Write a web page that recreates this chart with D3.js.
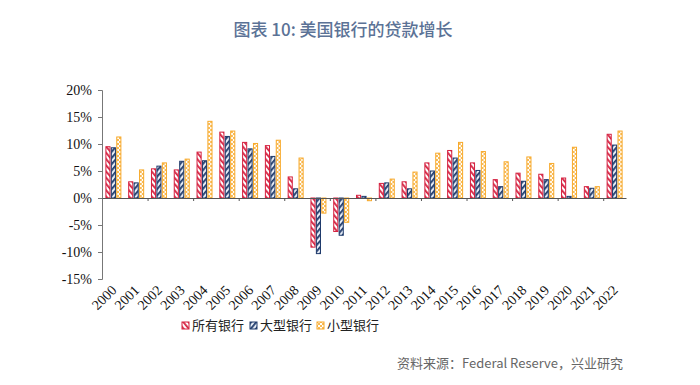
<!DOCTYPE html>
<html>
<head>
<meta charset="utf-8">
<script src="https://cdn.jsdelivr.net/npm/d3@7"></script>
<style>
  body { margin: 0; background: #fff; }
  svg { display: block; }
</style>
</head>
<body>
<svg id="chart"></svg>
<script>
const width = 700, height = 385;

// data (loan growth, %)
const years = ["2000","2001","2002","2003","2004","2005","2006","2007","2008","2009","2010","2011",
               "2012","2013","2014","2015","2016","2017","2018","2019","2020","2021","2022"];
const allBanks   = [9.5, 3.0, 5.4, 5.2, 8.5, 12.2, 10.3, 9.7, 3.9, -9.1, -6.2, 0.5, 2.7, 3.0, 6.5, 8.8, 6.5, 3.4, 4.6, 4.4, 3.7, 2.1, 11.8];
const largeBanks = [9.3, 2.8, 5.9, 6.8, 6.9, 11.4, 9.1, 7.7, 1.7, -10.3, -6.9, 0.3, 2.8, 1.7, 5.0, 7.4, 5.1, 2.1, 3.1, 3.4, 0.3, 1.8, 9.8];
const smallBanks = [11.3, 5.2, 6.5, 7.2, 14.2, 12.4, 10.1, 10.7, 7.4, -2.8, -4.5, -0.5, 3.5, 4.8, 8.3, 10.3, 8.6, 6.7, 7.6, 6.4, 9.4, 2.1, 12.4];
const seriesNames = ["所有银行", "大型银行", "小型银行"];
const yTicks = [-15, -10, -5, 0, 5, 10, 15, 20];

const seriesValues = [allBanks, largeBanks, smallBanks];
const colors = ["#d5203f", "#1f3a6b", "#f7a92a"];

const svg = d3.select("#chart").attr("width", width).attr("height", height);
const defs = svg.append("defs");

// stripe patterns
function stripe(id, color, bg, dir) {
  const p = defs.append("pattern").attr("id", id)
    .attr("patternUnits", "userSpaceOnUse").attr("width", 4).attr("height", 4)
    .attr("patternTransform", "rotate(" + dir + ")");
  p.append("rect").attr("width", 4).attr("height", 4).attr("fill", bg);
  p.append("rect").attr("width", 1.8).attr("height", 4).attr("fill", color);
}
stripe("p0", colors[0], "#fff", -40);
stripe("p1", colors[1], "#e6ecf5", 40);
const p2 = defs.append("pattern").attr("id", "p2")
  .attr("patternUnits", "userSpaceOnUse").attr("width", 4).attr("height", 4);
p2.append("rect").attr("width", 4).attr("height", 4).attr("fill", "#fff");
p2.append("path").attr("d", "M0,0L4,4M4,0L0,4").attr("stroke", colors[2]).attr("stroke-width", 0.8);
const fills = ["url(#p0)", "url(#p1)", "url(#p2)"];

const margin = { left: 102, right: 74, top: 90, bottom: 106 };
const x0 = d3.scaleBand().domain(years).range([margin.left, width - margin.right]);
const x1 = d3.scaleBand().domain([0, 1, 2]).range([3.4, x0.bandwidth() - 3.4]).paddingInner(0.06);
const y = d3.scaleLinear().domain([-15, 20]).range([height - margin.bottom, margin.top]);

// title
svg.append("text")
  .attr("x", 343).attr("y", 36)
  .attr("text-anchor", "middle")
  .attr("font-family", "'Noto Sans CJK SC', 'Noto Sans', sans-serif")
  .attr("font-size", 17).attr("font-weight", 500)
  .attr("fill", "#5b7296")
  .text("图表 10: 美国银行的贷款增长");

// bars
const groups = svg.append("g").selectAll("g")
  .data(years).join("g")
  .attr("transform", d => "translate(" + x0(d) + ",0)");

groups.selectAll("rect")
  .data((d, i) => seriesValues.map((s, k) => ({ k: k, v: s[i] })))
  .join("rect")
  .attr("x", d => x1(d.k) + 0.5)
  .attr("width", x1.bandwidth() - 1)
  .attr("y", d => y(Math.max(0, d.v)))
  .attr("height", d => Math.abs(y(d.v) - y(0)))
  .attr("fill", d => fills[d.k])
  .attr("stroke", d => colors[d.k])
  .attr("stroke-width", 1);

// y axis
const yAxis = svg.append("g")
  .attr("transform", "translate(" + margin.left + ",0)")
  .call(d3.axisLeft(y).tickValues(yTicks).tickSize(4).tickFormat(d => d + "%"));
yAxis.select(".domain").attr("stroke", "#777");
yAxis.selectAll(".tick line").attr("stroke", "#777");
yAxis.selectAll("text")
  .attr("font-family", "'Liberation Serif', serif")
  .attr("font-size", 14).attr("fill", "#111").attr("x", -10);

// x axis along zero, ticks every second category boundary
const xi = d3.scaleLinear().domain([0, years.length]).range(x0.range());
const xAxis = svg.append("g")
  .attr("transform", "translate(0," + y(0) + ")")
  .call(d3.axisBottom(xi).tickValues(d3.range(2, years.length, 2)).tickSize(3).tickSizeOuter(0).tickFormat(""));
xAxis.select(".domain").attr("stroke", "#555").attr("stroke-width", 1.2);
xAxis.selectAll(".tick line").attr("stroke", "#555");

// rotated year labels
svg.append("g").selectAll("text")
  .data(years).join("text")
  .attr("transform", d => "translate(" + (x0(d) + x0.bandwidth() / 2 + 4) + "," + 291 + ") rotate(-45)")
  .attr("text-anchor", "end")
  .attr("font-family", "'Liberation Serif', serif")
  .attr("font-size", 14).attr("fill", "#111")
  .text(d => d);

// legend
const legendX = [182, 250, 317];
const legend = svg.append("g").selectAll("g")
  .data(seriesNames).join("g")
  .attr("transform", (d, i) => "translate(" + legendX[i] + ",322)");
legend.append("rect")
  .attr("width", 7).attr("height", 7)
  .attr("fill", (d, i) => fills[i])
  .attr("stroke", (d, i) => colors[i]);
legend.append("text")
  .attr("x", 10).attr("y", 8)
  .attr("font-family", "'Noto Sans CJK SC', sans-serif")
  .attr("font-size", 13).attr("fill", "#222")
  .text(d => d);

// source
svg.append("text")
  .attr("x", 397).attr("y", 368)
  .attr("font-family", "'Noto Sans CJK SC', sans-serif")
  .attr("font-size", 13).attr("fill", "#666")
  .text("资料来源：Federal Reserve，兴业研究");
</script>
</body>
</html>
